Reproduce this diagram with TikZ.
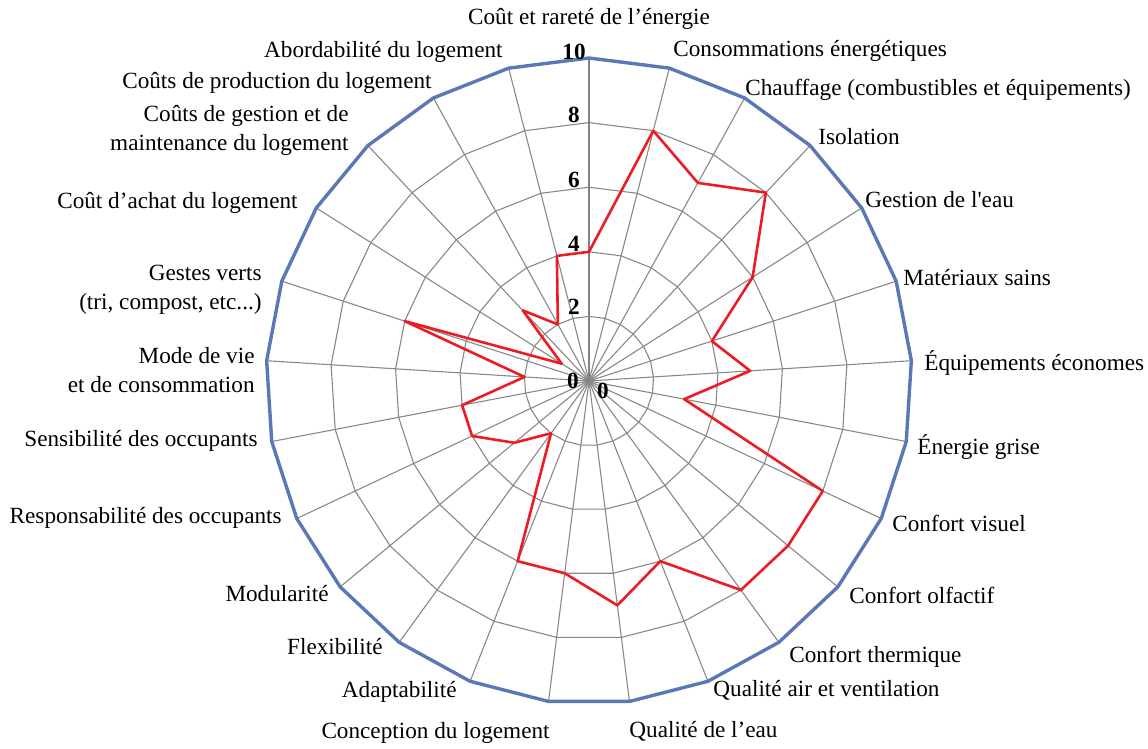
\documentclass[tikz,border=0pt]{standalone}
\usepackage{fontspec}
\setmainfont{Liberation Serif}
\definecolor{gridgray}{RGB}{136,136,136}
\definecolor{axisgray}{RGB}{128,128,136}
\definecolor{rimblue}{RGB}{89,120,181}
\definecolor{datared}{RGB}{236,28,36}
\tikzset{
  lbl/.style={inner sep=0pt, font=\fontsize{11.6}{14.5}\selectfont},
  tick/.style={inner sep=0pt, font=\fontsize{11.6}{14}\selectfont\bfseries},
  gridline/.style={draw=gridgray, line width=0.55pt},
  axisline/.style={draw=axisgray, line width=1pt},
  rim/.style={draw=rimblue, line width=1.7pt},
  dataline/.style={draw=datared, line width=1.3pt, line join=round}
}
\begin{document}
\begin{tikzpicture}[x=0.5pt,y=-0.5pt]
\useasboundingbox (0,0) rectangle (1148,749);

\begin{scope}[shift={(589,381)},y=0.5pt]
  % Draw the spokes
  \foreach \i in {0,...,24}
    \coordinate (v\i) at ({90-14.4*\i}:323);
  \foreach \i in {1,...,24}
    \draw[gridline] (0,0) -- (v\i);

  % Draw the inner rings
  \foreach \k in {2,4,6,8}
    \draw[gridline] (90:{32.3*\k}) \foreach \i in {1,...,24} {-- ({90-14.4*\i}:{32.3*\k})} -- cycle;

  % Draw the value axis and the outer ring
  \draw[axisline] (0,0) -- (v0);
  \draw[rim] (v0) \foreach \i in {1,...,24} {-- (v\i)} -- cycle;

  % Draw the scores
  \foreach \v [count=\i from 0] in {4,8,7,8,6,4,5,3,8,8,8,6,7,6,6,2,3,4,4,2,6,1,3,2,4}
    \coordinate (p\i) at ({90-14.4*\i}:{32.3*\v});
  \draw[dataline] (p0) \foreach \i in {1,...,24} {-- (p\i)} -- cycle;
\end{scope}

% Scale values
\foreach \k/\y in {2/307,4/244,6/180,8/115,10/52}
  \node[tick] (t\k) at (574,\y) {\k};
\node[tick] (t0) at (573,381) {0};
\node[tick] (t0b) at (603,391) {0};

% Axis labels
\node[lbl] (energie) at (589,19) {Coût et rareté de l’énergie};
\node[lbl, anchor=west] (conso) at (673,51) {Consommations énergétiques};
\node[lbl, anchor=west] (chauffage) at (745,90) {Chauffage (combustibles et équipements)};
\node[lbl, anchor=west] (isolation) at (818,137) {Isolation};
\node[lbl, anchor=west] (eau) at (865,200) {Gestion de l\textquotesingle eau};
\node[lbl, anchor=west] (materiaux) at (903,278) {Matériaux sains};
\node[lbl, anchor=west] (equip) at (924,363) {Équipements économes};
\node[lbl, anchor=west] (grise) at (917,447) {Énergie grise};
\node[lbl, anchor=west] (visuel) at (892,523) {Confort visuel};
\node[lbl, anchor=west] (olfactif) at (849,595) {Confort olfactif};
\node[lbl, anchor=west] (thermique) at (789,657) {Confort thermique};
\node[lbl, anchor=west] (air) at (713,690) {Qualité air et ventilation};
\node[lbl, anchor=west] (qualeau) at (629,731) {Qualité de l’eau};
\node[lbl, anchor=east] (conception) at (550,733) {Conception du logement};
\node[lbl, anchor=east] (adapt) at (457,692) {Adaptabilité};
\node[lbl, anchor=east] (flex) at (383,647) {Flexibilité};
\node[lbl, anchor=east] (modul) at (329,594) {Modularité};
\node[lbl, anchor=east] (respons) at (282,518) {Responsabilité des occupants};
\node[lbl, anchor=east] (sensib) at (258,441) {Sensibilité des occupants};
\node[lbl, anchor=east, align=right] (modevie) at (255,370) {Mode de vie\\et de consommation};
\node[lbl, anchor=east, align=right] (gestes) at (262,290) {Gestes verts\\(tri, compost, etc...)};
\node[lbl, anchor=east] (achat) at (298,203) {Coût d’achat du logement};
\node[lbl, anchor=east, align=right] (gestion) at (349,130) {Coûts de gestion et de\\maintenance du logement};
\node[lbl, anchor=east] (production) at (432,83) {Coûts de production du logement};
\node[lbl, anchor=east] (abord) at (503,52) {Abordabilité du logement};
\end{tikzpicture}
\end{document}
